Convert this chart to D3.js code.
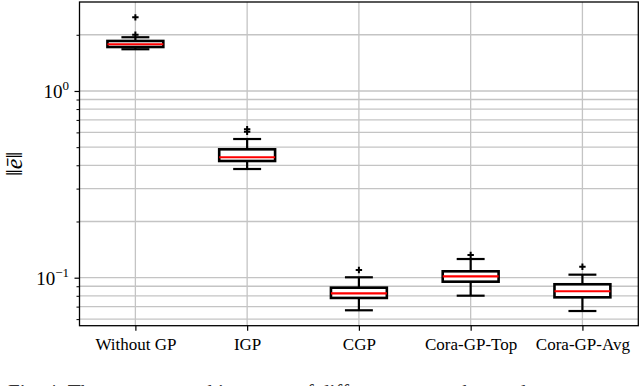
<!DOCTYPE html>
<html>
<head>
<meta charset="utf-8">
<script src="https://cdn.jsdelivr.net/npm/d3@7"></script>
<style>
  body { margin: 0; background: #fff; }
  svg { display: block; }
  text { font-family: "Liberation Serif", "DejaVu Serif", serif; fill: #000; }
</style>
</head>
<body>
<svg id="chart" width="640" height="386"></svg>
<script>
// data
var categories = ["Without GP", "IGP", "CGP", "Cora-GP-Top", "Cora-GP-Avg"];
var whiskerLow  = [1.673, 0.382, 0.0669, 0.0801, 0.0663];
var q1          = [1.72, 0.4217, 0.0779, 0.0952, 0.0785];
var medians     = [1.779, 0.4415, 0.0825, 0.1017, 0.0846];
var q3          = [1.853, 0.487, 0.0884, 0.1082, 0.0922];
var whiskerHigh = [1.94, 0.553, 0.1005, 0.1259, 0.1038];
var outliers    = [[2.48, 2.0], [0.6235, 0.605], [0.110], [0.1323], [0.1145]];
var yMajor = [0.1, 1];
var yMinor = [0.06, 0.07, 0.08, 0.09, 0.2, 0.3, 0.4, 0.5, 0.6, 0.7, 0.8, 0.9, 2];

(function(){
var svg = d3.select("#chart");
var pLeft = 79.5, pRight = 638.3, pTop = 2, pBottom = 325.7;

var x = d3.scaleLinear().domain([0.5, categories.length + 0.5]).range([pLeft, pRight]);
var y = d3.scaleLog().domain([0.05532, 2.996]).range([pBottom, pTop]);

var boxes = categories.map(function(c, i){
  return {name: c, pos: i + 1, lo: whiskerLow[i], q1: q1[i], med: medians[i],
          q3: q3[i], hi: whiskerHigh[i], out: outliers[i]};
});

// grid
var grid = svg.append("g");
grid.selectAll(".hg").data(yMajor.concat(yMinor)).enter().append("line")
  .attr("x1", pLeft).attr("x2", pRight)
  .attr("y1", function(d){ return y(d); }).attr("y2", function(d){ return y(d); })
  .attr("stroke", "#c4c4c4").attr("stroke-width", 1.3);
grid.selectAll(".vg").data(boxes).enter().append("line")
  .attr("x1", function(d){ return x(d.pos); }).attr("x2", function(d){ return x(d.pos); })
  .attr("y1", pTop).attr("y2", pBottom)
  .attr("stroke", "#c4c4c4").attr("stroke-width", 1.3);

// axes
var gy = svg.append("g").attr("transform", "translate(" + pLeft + ",0)")
  .call(d3.axisLeft(y).tickValues(yMajor).tickSize(5).tickFormat(""));
gy.select(".domain").remove();
gy.selectAll("line").attr("stroke-width", 1.2);
svg.append("g").attr("transform", "translate(" + pLeft + ",0)")
  .call(d3.axisLeft(y).tickValues(yMinor).tickSize(3).tickFormat(""))
  .call(function(g){ g.select(".domain").remove(); g.selectAll("line").attr("stroke-width", 1); });

// y tick labels as 10^k
var ylab = svg.append("g");
yMajor.forEach(function(v){
  var t = ylab.append("text").attr("x", 69).attr("y", y(v) + 7)
    .attr("text-anchor", "end").style("font-size", "19px");
  t.append("tspan").text("10");
  t.append("tspan").attr("dy", -8).style("font-size", "13px").text(v === 1 ? "0" : "\u22121");
});

var gx = svg.append("g").attr("transform", "translate(0," + pBottom + ")")
  .call(d3.axisBottom(x).tickValues(boxes.map(function(d){ return d.pos; }))
    .tickSize(5).tickPadding(5).tickFormat(function(d){ return categories[d - 1]; }));
gx.select(".domain").remove();
gx.selectAll("line").attr("stroke-width", 1.2);
gx.selectAll("text").style("font-size", "17px")
  .style("font-family", "'Liberation Serif', serif").attr("dy", "0.85em");

// frame
svg.append("rect").attr("x", pLeft).attr("y", pTop)
  .attr("width", pRight - pLeft).attr("height", pBottom - pTop)
  .attr("fill", "none").attr("stroke", "#000").attr("stroke-width", 1.3);

// boxes
var bw = x(1.25) - x(1);
var cw = x(1.125) - x(1);
var g = svg.append("g").selectAll("g").data(boxes).enter().append("g");
g.append("line")
  .attr("x1", function(d){ return x(d.pos); }).attr("x2", function(d){ return x(d.pos); })
  .attr("y1", function(d){ return y(d.q1); }).attr("y2", function(d){ return y(d.lo); });
g.append("line")
  .attr("x1", function(d){ return x(d.pos); }).attr("x2", function(d){ return x(d.pos); })
  .attr("y1", function(d){ return y(d.q3); }).attr("y2", function(d){ return y(d.hi); });
g.append("line")
  .attr("x1", function(d){ return x(d.pos) - cw; }).attr("x2", function(d){ return x(d.pos) + cw; })
  .attr("y1", function(d){ return y(d.lo); }).attr("y2", function(d){ return y(d.lo); });
g.append("line")
  .attr("x1", function(d){ return x(d.pos) - cw; }).attr("x2", function(d){ return x(d.pos) + cw; })
  .attr("y1", function(d){ return y(d.hi); }).attr("y2", function(d){ return y(d.hi); });
g.selectAll("line").attr("stroke", "#000").attr("stroke-width", 2.2);
g.append("rect")
  .attr("x", function(d){ return x(d.pos) - bw; })
  .attr("y", function(d){ return y(d.q3); })
  .attr("width", 2 * bw)
  .attr("height", function(d){ return y(d.q1) - y(d.q3); })
  .attr("fill", "#fff").attr("stroke", "#000").attr("stroke-width", 2.6);
g.append("line")
  .attr("x1", function(d){ return x(d.pos) - bw; }).attr("x2", function(d){ return x(d.pos) + bw; })
  .attr("y1", function(d){ return y(d.med); }).attr("y2", function(d){ return y(d.med); })
  .attr("stroke", "#ff0000").attr("stroke-width", 2.2);
g.each(function(d){
  d3.select(this).selectAll(".flier").data(d.out).enter().append("path")
    .attr("d", function(v){
      var cx = x(d.pos), cy = y(v), s = 3.2;
      return "M" + (cx - s) + "," + cy + "H" + (cx + s) + "M" + cx + "," + (cy - s) + "V" + (cy + s);
    })
    .attr("stroke", "#000").attr("stroke-width", 2);
});

// y label
var yl = svg.append("text").attr("transform", "translate(22," + ((pTop + pBottom) / 2) + ") rotate(-90)")
  .attr("text-anchor", "middle").style("font-size", "24px");
yl.append("tspan").text("\u2016");
yl.append("tspan").style("font-style", "italic").text("e\u0304");
yl.append("tspan").text("\u2016");

// caption, cut off by the page edge
svg.append("text").attr("x", 8).attr("y", 398.5).style("font-size", "21px")
  .style("fill", "#333")
  .text("Fig. 4:  The average tracking error of different approaches and");
})();
</script>
</body>
</html>
